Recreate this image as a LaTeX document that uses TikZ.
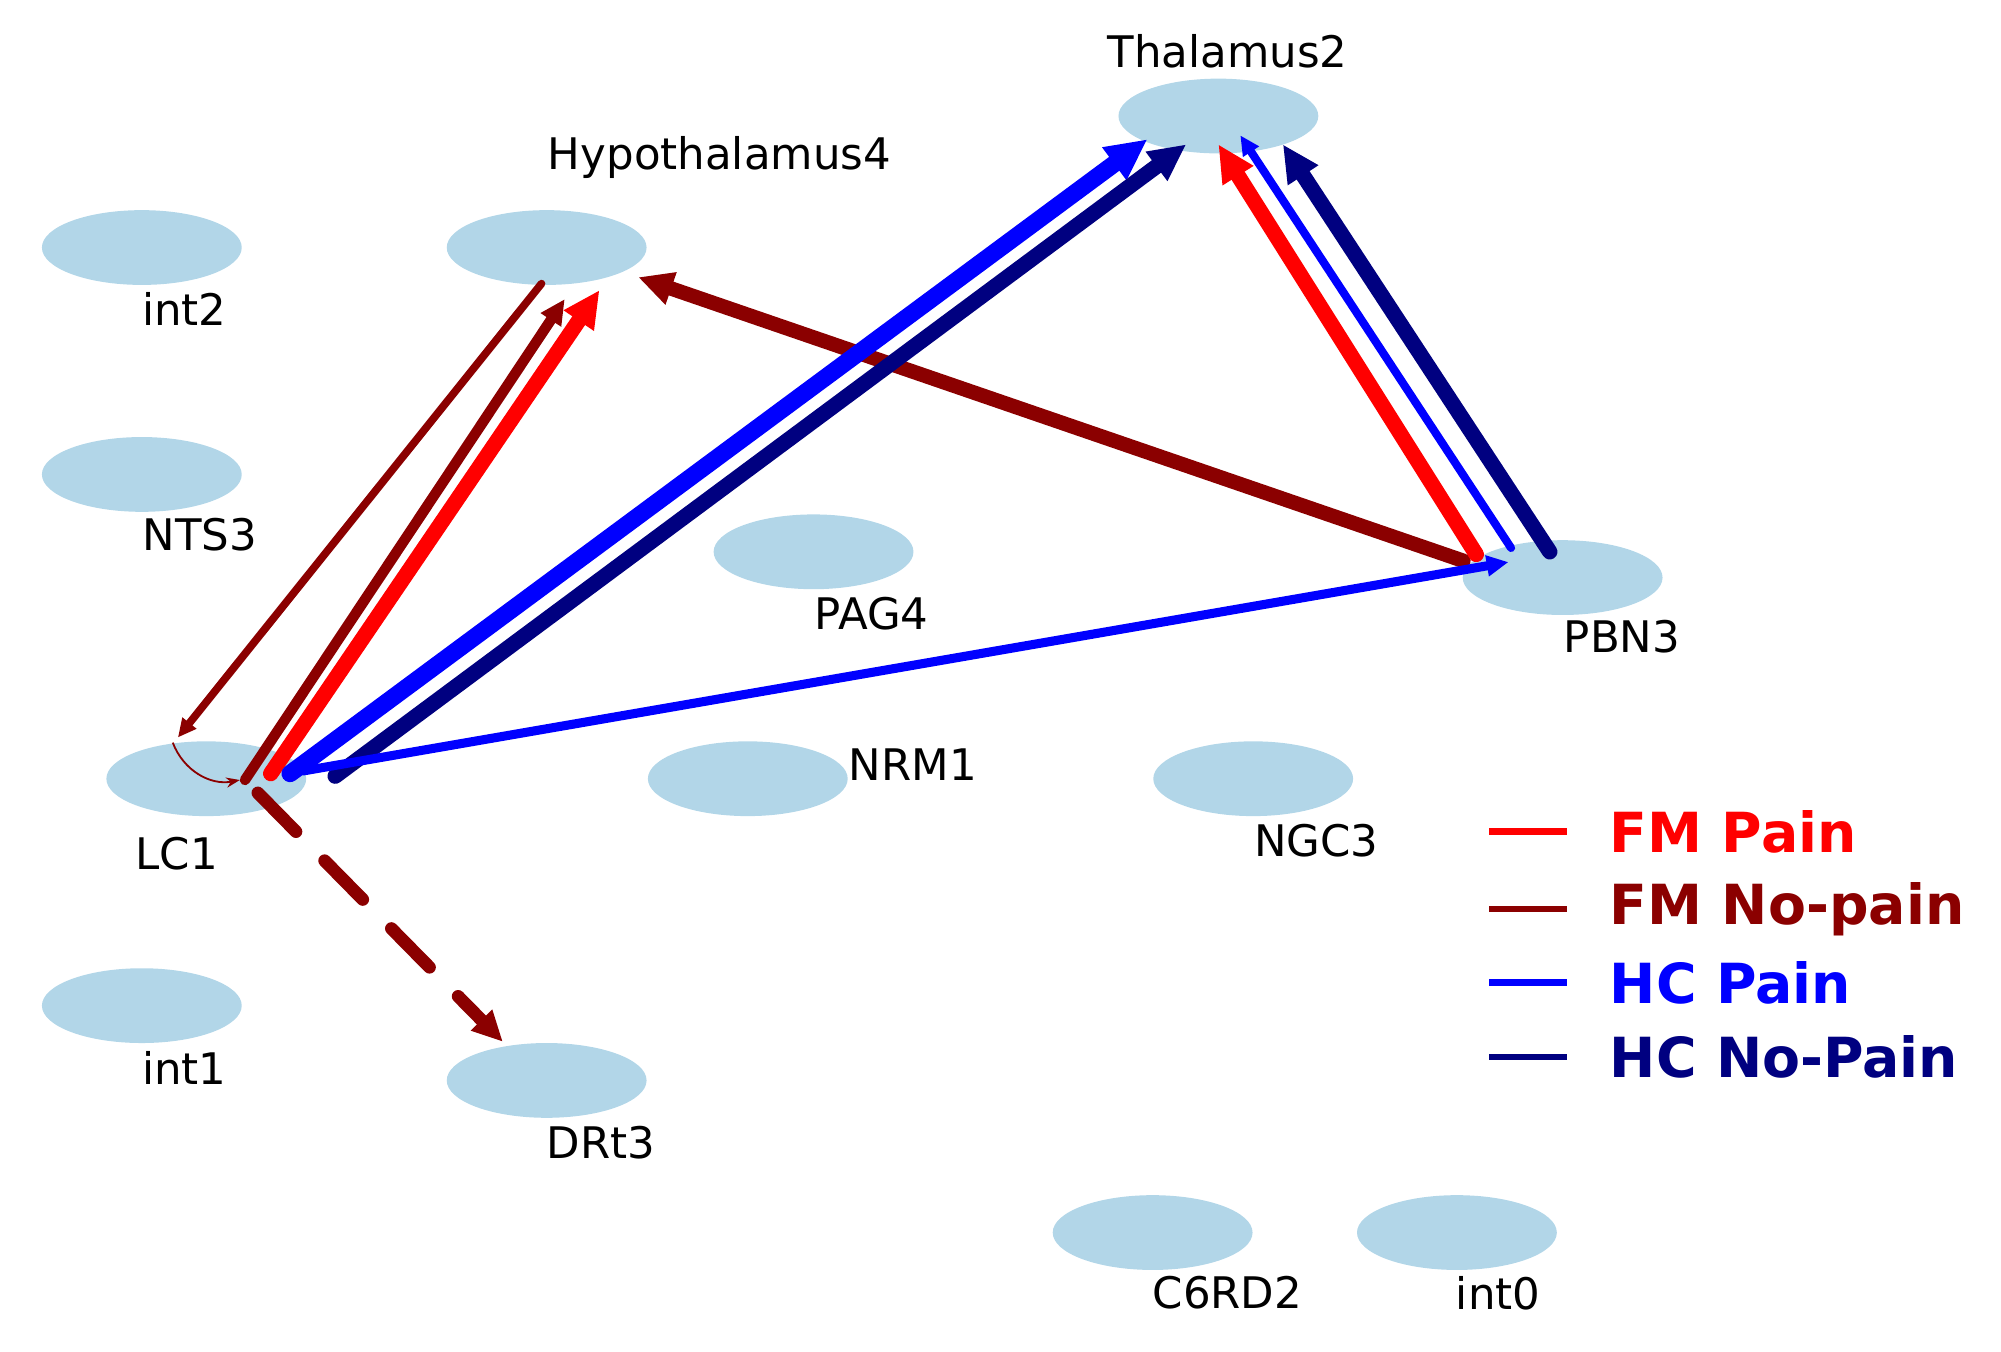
\documentclass[tikz,border=0pt]{standalone}
\usepackage{fontspec}
\setmainfont{DejaVu Sans}
\usetikzlibrary{shapes.geometric, arrows.meta}
\definecolor{fmpain}{RGB}{255,0,0}
\definecolor{fmnopain}{RGB}{139,0,0}
\definecolor{hcpain}{RGB}{0,0,255}
\definecolor{hcnopain}{RGB}{0,0,128}
\definecolor{region}{RGB}{178,214,232}
\tikzset{
	area/.style={
		ellipse,
		fill=region,
		minimum width=1.55cm,
		minimum height=0.58cm,
		inner sep=0
	},
	tag/.style={
		font=\fontsize{9.6}{11}\selectfont,
		inner sep=0
	},
	edge/.style={
		-{Triangle[length=0pt 2.4,width=0pt 2.2]},
		line cap=round
	},
	key/.style={
		font=\fontsize{12.2}{14}\selectfont\bfseries,
		anchor=west,
		inner sep=0
	}
}

\begin{document}
\begin{tikzpicture}
		\useasboundingbox (0,0) rectangle (15.52,10.48);
		
		% brain regions
		\node [area] (thal) at (9.45,9.58) {};
		\node [area] (hyp) at (4.24,8.56) {};
		\node [area] (int2) at (1.10,8.56) {};
		\node [area] (nts) at (1.10,6.80) {};
		\node [area] (pag) at (6.31,6.20) {};
		\node [area] (pbn) at (12.12,6.00) {};
		\node [area] (lc) at (1.60,4.44) {};
		\node [area] (nrm) at (5.80,4.44) {};
		\node [area] (ngc) at (9.72,4.44) {};
		\node [area] (int1) at (1.10,2.68) {};
		\node [area] (drt) at (4.24,2.10) {};
		\node [area] (c6rd) at (8.94,0.92) {};
		\node [area] (int0) at (11.30,0.92) {};
		
		\node [tag] (thalL) at (9.52,10.08) {Thalamus2};
		\node [tag] (hypL) at (5.58,9.26) {Hypothalamus4};
		\node [tag] (int2L) at (1.43,8.08) {int2};
		\node [tag] (ntsL) at (1.55,6.33) {NTS3};
		\node [tag] (pagL) at (6.76,5.72) {PAG4};
		\node [tag] (pbnL) at (12.58,5.54) {PBN3};
		\node [tag] (lcL) at (1.37,3.86) {LC1};
		\node [tag] (nrmL) at (7.08,4.55) {NRM1};
		\node [tag] (ngcL) at (10.21,3.96) {NGC3};
		\node [tag] (int1L) at (1.43,2.20) {int1};
		\node [tag] (drtL) at (4.66,1.62) {DRt3};
		\node [tag] (c6rdL) at (9.52,0.45) {C6RD2};
		\node [tag] (int0L) at (11.62,0.45) {int0};
		
		% connections
		\draw [edge, fmnopain, line width=1.7pt] ([shift={(-0.04,-0.28)}]hyp.center) -- ([shift={(-0.22,0.32)}]lc.center);
		\draw [edge, fmnopain, line width=2.3pt] ([shift={(0.30,-0.01)}]lc.center) -- ([shift={(0.14,-0.40)}]hyp.center);
		\draw [edge, fmpain, line width=3.4pt] ([shift={(0.50,0.04)}]lc.center) -- ([shift={(0.41,-0.33)}]hyp.center);
		\draw [edge, fmnopain, line width=3.2pt] ([shift={(-0.77,0.13)}]pbn.center) -- ([shift={(0.71,-0.23)}]hyp.center);
		\draw [edge, hcpain, line width=3.8pt] ([shift={(0.65,0.04)}]lc.center) -- ([shift={(-0.55,-0.18)}]thal.center);
		\draw [edge, hcnopain, line width=3.4pt] ([shift={(1.00,0.02)}]lc.center) -- ([shift={(-0.25,-0.22)}]thal.center);
		\draw [edge, hcpain, line width=2pt] ([shift={(0.75,0.06)}]lc.center) -- ([shift={(-0.42,0.12)}]pbn.center);
		\draw [edge, fmpain, line width=3.4pt] ([shift={(-0.67,0.18)}]pbn.center) -- ([shift={(0,-0.22)}]thal.center);
		\draw [edge, hcpain, line width=1.8pt] ([shift={(-0.40,0.23)}]pbn.center) -- ([shift={(0.17,-0.15)}]thal.center);
		\draw [edge, hcnopain, line width=3.4pt] ([shift={(-0.10,0.20)}]pbn.center) -- ([shift={(0.50,-0.22)}]thal.center);
		\draw [edge, fmnopain, line width=2.8pt, dash pattern=on 12pt off 9pt] ([shift={(0.40,-0.11)}]lc.center) -- ([shift={(-0.34,0.30)}]drt.center);
		\draw [fmnopain, thin, -{Stealth[length=3pt]}] ([shift={(-0.26,0.28)}]lc.center) to [bend right=40] ([shift={(0.26,-0.01)}]lc.center);
		
		% legend
		\foreach \y/\c/\t [count=\i] in {4.03/fmpain/FM Pain, 3.43/fmnopain/FM No-pain, 2.86/hcpain/HC Pain, 2.28/hcnopain/HC No-Pain} {
			\coordinate (k\i) at (11.55,\y);
			\coordinate (e\i) at (12.15,\y);
			\draw [\c, line width=1.4pt] (k\i) -- (e\i);
			\node [key, \c] (t\i) at (12.48,\y) {\t};
		}
\end{tikzpicture}
\end{document}
